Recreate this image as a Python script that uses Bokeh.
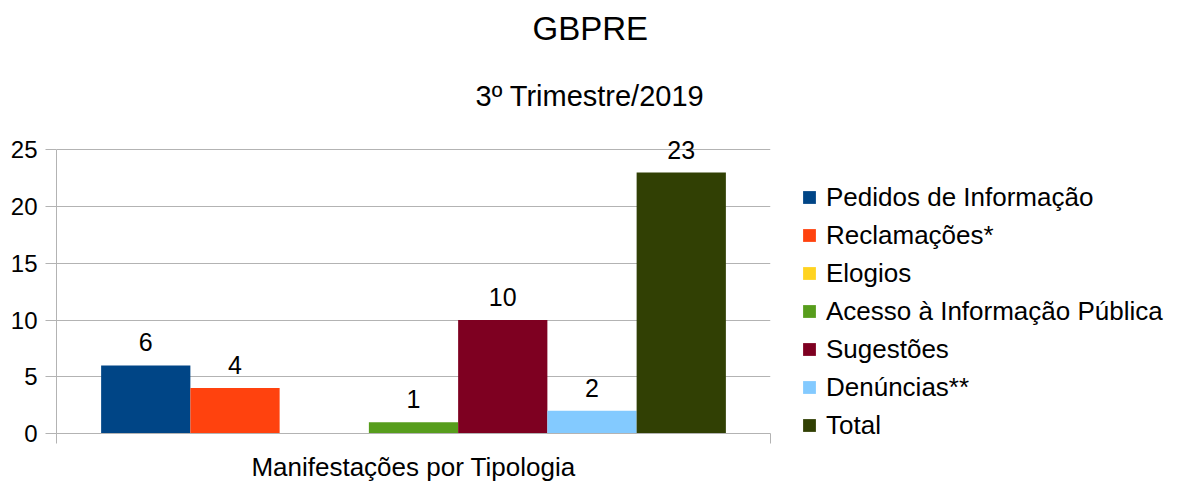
from bokeh.plotting import figure
from bokeh.models import ColumnDataSource, Range1d, FixedTicker, Legend, LegendItem, Title, Label
from bokeh.embed import file_html
from bokeh.resources import INLINE

# ---- data ----
chart_title = "GBPRE"
chart_subtitle = "3º Trimestre/2019"
category = "Manifestações por Tipologia"
series = ["Pedidos de Informação", "Reclamações*", "Elogios",
          "Acesso à Informação Pública", "Sugestões", "Denúncias**", "Total"]
values = [6, 4, 0, 1, 10, 2, 23]
colors = ["#004586", "#ff420e", "#ffd320", "#579d1c", "#7e0021", "#83caff", "#314004"]
y_ticks = [0, 5, 10, 15, 20, 25]

FONT = "Liberation Sans"
GRID = "#b3b3b3"

n = len(series)
slot = 1.0 / (n + 1)
xs = [slot * (i + 1) for i in range(n)]
y_max = y_ticks[-1]

# frame extends a little above the top tick so the tallest value label is not clipped
p = figure(frame_width=714, frame_height=295, x_range=Range1d(0, 1), y_range=Range1d(0, y_max + 1),
           output_backend="svg", toolbar_location=None, title=None)
p.min_border_left = 56
p.min_border_right = 414
p.min_border_top = 138
p.min_border_bottom = 51
p.background_fill_color = "white"
p.border_fill_color = "white"
p.outline_line_color = None

# bars
renderers = []
for i, (name, v, c) in enumerate(zip(series, values, colors)):
    src = ColumnDataSource(dict(x=[xs[i]], top=[v]))
    r = p.vbar(x="x", top="top", bottom=0, width=slot, source=src,
               fill_color=c, line_color=None)
    renderers.append(r)

# value labels (non-zero only)
for x, v in zip(xs, values):
    if v > 0:
        p.add_layout(Label(x=x, y=v, text=str(v), text_align="center",
                           text_baseline="bottom", y_offset=14, text_font=FONT,
                           text_font_size="25px", text_color="black"))

# axes
p.yaxis.ticker = FixedTicker(ticks=y_ticks, minor_ticks=[])
p.yaxis.bounds = (0, y_max)
p.yaxis.major_label_text_font = FONT
p.yaxis.major_label_text_font_size = "24px"
p.yaxis.major_label_text_color = "black"
p.yaxis.major_label_standoff = 8
p.yaxis.major_tick_out = 11
p.yaxis.major_tick_in = 0
p.yaxis.minor_tick_out = 0
p.yaxis.minor_tick_in = 0
p.yaxis.axis_line_color = GRID
p.yaxis.major_tick_line_color = GRID

p.xaxis.ticker = FixedTicker(ticks=[0, 1], minor_ticks=[])
p.xaxis.major_label_overrides = {0: "", 1: ""}
p.xaxis.major_label_text_font_size = "1px"
p.xaxis.major_label_standoff = 0
p.xaxis.major_tick_out = 10
p.xaxis.major_tick_in = 0
p.xaxis.minor_tick_out = 0
p.xaxis.axis_line_color = GRID
p.xaxis.major_tick_line_color = GRID
p.xaxis.axis_label = category
p.xaxis.axis_label_text_font = FONT
p.xaxis.axis_label_text_font_size = "26px"
p.xaxis.axis_label_text_font_style = "normal"
p.xaxis.axis_label_text_color = "black"
p.xaxis.axis_label_standoff = 8

# right border of the plot area as a vertical grid line at the end of the x range
p.xgrid.ticker = FixedTicker(ticks=[1], minor_ticks=[])
p.xgrid.bounds = (0, y_max)
p.xgrid.grid_line_color = GRID
p.ygrid.ticker = FixedTicker(ticks=y_ticks, minor_ticks=[])
p.ygrid.grid_line_color = GRID

# legend in the right panel
items = [LegendItem(label=s, renderers=[r]) for s, r in zip(series, renderers)]
legend = Legend(items=items, location="top_left", orientation="vertical",
                border_line_color=None, background_fill_alpha=0,
                padding=3, margin=31, spacing=0,
                title=" ", title_text_font_size="1px", title_standoff=8,
                glyph_width=16, glyph_height=16, label_standoff=9,
                label_text_font=FONT, label_text_font_size="26px",
                label_text_color="black", label_height=38)
p.add_layout(legend, "right")

# titles
p.add_layout(Title(text=chart_subtitle, align="left", offset=419, standoff=53,
                   text_font=FONT, text_font_size="29px", text_font_style="normal",
                   text_color="black"), "above")
p.add_layout(Title(text=chart_title, align="left", offset=476, standoff=10,
                   text_font=FONT, text_font_size="33px", text_font_style="normal",
                   text_color="black"), "above")

open("out.html", "w").write(file_html(p, INLINE))
